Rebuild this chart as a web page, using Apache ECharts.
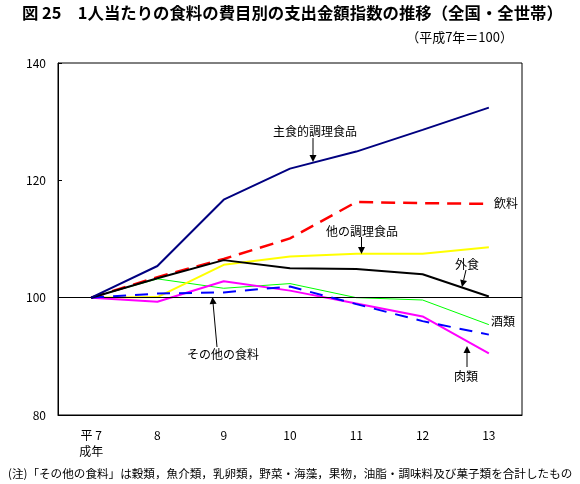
<!DOCTYPE html>
<html>
<head>
<meta charset="utf-8">
<script src="https://cdn.jsdelivr.net/npm/echarts@6/dist/echarts.min.js"></script>
<style>
html,body{margin:0;padding:0;background:#fff;}
#c{width:580px;height:484px;}
</style>
</head>
<body>
<div id="c"></div>
<script>
var categories = ['平 7\n成年', '8', '9', '10', '11', '12', '13'];
var yTicks = [80, 100, 120, 140];
var shushoku = [100, 105.4, 116.7, 122.0, 124.9, 128.6, 132.4];   // 主食的調理食品
var inryo = [100, 103.5, 106.6, 110.1, 116.3, 116.1, 116.0];       // 飲料
var hokaChori = [100, 100.1, 105.6, 107.0, 107.5, 107.5, 108.6];   // 他の調理食品
var gaishoku = [100, 103.3, 106.4, 105.0, 104.9, 104.0, 100.2];    // 外食
var sake = [100, 103.2, 101.6, 102.4, 100.0, 99.6, 95.4];          // 酒類
var niku = [100, 99.3, 102.8, 101.2, 99.0, 96.8, 90.5];            // 肉類
var sonota = [100, 100.7, 100.9, 101.9, 98.9, 96.0, 93.7];         // その他の食料

var FONT = '"Noto Sans CJK JP", sans-serif';
var chart = echarts.init(document.getElementById('c'), null, {renderer: 'canvas'});

function ln(name, data, color, width, type, z) {
  return {
    name: name, type: 'line', data: data, symbol: 'none', z: z || 2,
    lineStyle: {color: color, width: width, type: type || 'solid', cap: 'butt'},
    itemStyle: {color: color}
  };
}
function txt(x, y, s, size, weight, align) {
  return {type: 'text', x: x, y: y, z: 100,
    style: {text: s, fill: '#000', font: (weight || 'normal') + ' ' + (size || 12) + 'px ' + FONT,
      textAlign: align || 'left', textVerticalAlign: 'middle'}};
}
function arrow(x1, y1, x2, y2) {
  var dx = x2 - x1, dy = y2 - y1, L = Math.sqrt(dx*dx + dy*dy);
  var ux = dx / L, uy = dy / L, hl = 7, hw = 3.5;
  var bx = x2 - ux * hl, by = y2 - uy * hl;
  return [
    {type: 'line', z: 100, shape: {x1: x1, y1: y1, x2: bx, y2: by}, style: {stroke: '#000', lineWidth: 1}},
    {type: 'polygon', z: 100, shape: {points: [[x2, y2], [bx - uy * hw, by + ux * hw], [bx + uy * hw, by - ux * hw]]}, style: {fill: '#000'}}
  ];
}

var graphics = [
  txt(22, 13, '図 25　1人当たりの食料の費目別の支出金額指数の推移（全国・全世帯）', 16.4, 'bold'),
  txt(513, 37, '（平成7年＝100）', 13, 'normal', 'right'),
  txt(8, 474, '(注)「その他の食料」は穀類，魚介類，乳卵類，野菜・海藻，果物，油脂・調味料及び菓子類を合計したもの', 11.6),
  txt(273, 131, '主食的調理食品', 12),
  txt(494, 203, '飲料', 12),
  txt(326, 231, '他の調理食品', 12),
  txt(455, 264, '外食', 12),
  txt(491, 321, '酒類', 12),
  txt(454, 376, '肉類', 12),
  txt(187, 354, 'その他の食料', 12)
].concat(arrow(313, 138, 313, 162))
 .concat(arrow(361.5, 237, 361.5, 254))
 .concat(arrow(466, 270, 462, 287))
 .concat(arrow(467, 367, 467, 346))
 .concat(arrow(217, 347, 212.5, 297));

chart.setOption({
  animation: false,
  backgroundColor: '#fff',
  grid: {left: 58, right: 58, top: 63, bottom: 69, show: true, borderColor: '#000', borderWidth: 1, backgroundColor: 'transparent'},
  xAxis: {
    type: 'category', data: categories, boundaryGap: true,
    axisLine: {lineStyle: {color: '#000', width: 1}},
    axisTick: {inside: true, length: 4, lineStyle: {color: '#000'}},
    axisLabel: {color: '#000', fontSize: 12, fontFamily: FONT, margin: 12, lineHeight: 16, interval: 0},
    splitLine: {show: false}
  },
  yAxis: {
    type: 'value', min: yTicks[0], max: yTicks[yTicks.length - 1], interval: 20,
    axisLine: {show: true, lineStyle: {color: '#000', width: 1}},
    axisTick: {show: true, inside: true, length: 4, lineStyle: {color: '#000'}},
    axisLabel: {color: '#000', fontSize: 12, fontFamily: FONT, margin: 12},
    splitLine: {show: false}
  },
  series: [
    Object.assign(ln('base', [], '#000', 1), {
      markLine: {silent: true, symbol: 'none', label: {show: false},
        lineStyle: {color: '#000', width: 1, type: 'solid'}, data: [{yAxis: 100}]}
    }),
    ln('酒類', sake, '#00ff00', 1, 'solid', 3),
    ln('他の調理食品', hokaChori, '#ffff00', 2, 'solid', 3),
    ln('肉類', niku, '#ff00ff', 2, 'solid', 4),
    ln('その他の食料', sonota, '#0000ff', 2, [13, 9], 5),
    ln('飲料', inryo, '#ff0000', 2.5, [14, 8], 4),
    ln('外食', gaishoku, '#000000', 2, 'solid', 5),
    ln('主食的調理食品', shushoku, '#000080', 2, 'solid', 6)
  ],
  graphic: graphics
});
</script>
</body>
</html>
